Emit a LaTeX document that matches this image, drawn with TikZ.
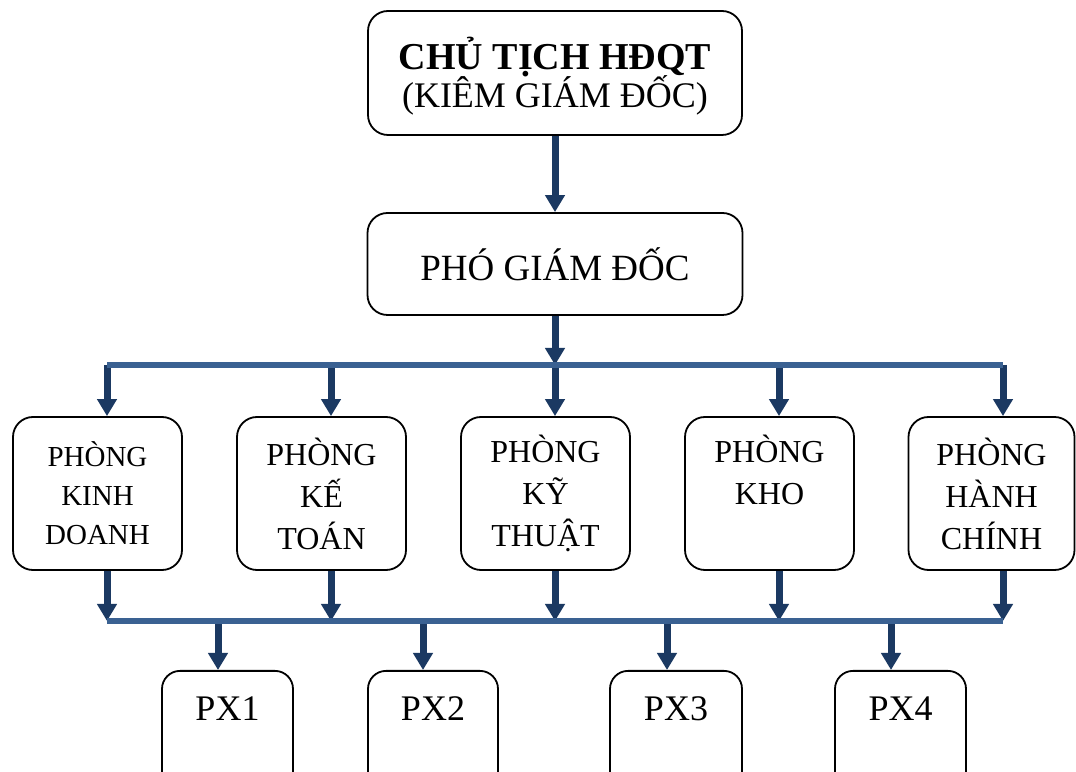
\documentclass[tikz,border=0pt]{standalone}
\usepackage{fontspec}
\setmainfont{Liberation Serif}
\usetikzlibrary{arrows.meta}
\definecolor{arrowblue}{RGB}{27,57,98}
\definecolor{busblue}{RGB}{58,97,146}
\tikzset{
  box/.style={draw=black, line width=1.8pt, rounded corners=20pt, fill=white,
    inner sep=0pt, align=center},
  unit/.style={box, minimum width=169pt, minimum height=153pt,
    font=\fontsize{32}{42}\selectfont},
  pxbox/.style={box, rounded corners=18pt, anchor=north, minimum width=131pt,
    inner sep=25pt, text height=25pt, text depth=55pt,
    font=\fontsize{36}{40}\selectfont},
  arr/.style={draw=arrowblue, line width=7pt,
    -{Triangle[width=19pt,length=17pt]}},
  bus/.style={draw=busblue, line width=6pt}
}
\begin{document}
\begin{tikzpicture}[x=1pt,y=1pt]
% keep every text line at its exact baseline distance
\lineskiplimit=-100pt\relax
\clip (0,0) rectangle (1076,771);
\fill[white] (0,0) rectangle (1076,771);

% management boxes
\node[box, minimum width=374pt, minimum height=124pt,
  font=\fontsize{36}{38}\selectfont] (ct) at (555,698)
  {{\fontsize{38}{38}\selectfont\bfseries\rule{0pt}{39pt}CHỦ TỊCH HĐQT}\\
   (KIÊM GIÁM ĐỐC)};
\node[box, minimum width=375pt, minimum height=102pt,
  font=\fontsize{37}{40}\selectfont] (pgd) at (555,507) {PHÓ GIÁM ĐỐC};

% departments
\node[unit, font=\fontsize{29}{39}\selectfont] (kd) at (97.5,277.5)
  {PHÒNG\\KINH\\DOANH};
\node[unit] (kt) at (321.5,277.5) {PHÒNG\\KẾ\\TOÁN};
\node[unit] (ky) at (545.5,277.5) {PHÒNG\\KỸ\\THUẬT};
\node[unit] (kh) at (769.5,277.5) {PHÒNG\\KHO\\\vphantom{THUẬT}};
\node[unit, minimum width=166pt] (hc) at (991.5,277.5) {PHÒNG\\HÀNH\\CHÍNH};

% workshops
\node[pxbox] (px1) at (227.5,101) {PX1};
\node[pxbox, minimum width=130pt] (px2) at (433,101) {PX2};
\node[pxbox, minimum width=132pt] (px3) at (676,101) {PX3};
\node[pxbox] (px4) at (900.5,101) {PX4};

% bus junctions
\coordinate (u0) at (555,406);
\coordinate (u1) at (107,406);
\coordinate (u2) at (331,406);
\coordinate (u3) at (555,406);
\coordinate (u4) at (779,406);
\coordinate (u5) at (1003,406);
\coordinate (l1) at (107,150);
\coordinate (l2) at (331,150);
\coordinate (l3) at (555,150);
\coordinate (l4) at (779,150);
\coordinate (l5) at (1003,150);
\coordinate (p1) at (218,150);
\coordinate (p2) at (423,150);
\coordinate (p3) at (667,150);
\coordinate (p4) at (891,150);

% arrows
\draw[arr] (ct.south) -- (pgd.north);
\draw[arr] (pgd.south) -- (u0);
\draw[arr] (u1) -- (u1 |- kd.north);
\draw[arr] (u2) -- (u2 |- kt.north);
\draw[arr] (u3) -- (u3 |- ky.north);
\draw[arr] (u4) -- (u4 |- kh.north);
\draw[arr] (u5) -- (u5 |- hc.north);
\draw[arr] (l1 |- kd.south) -- (l1);
\draw[arr] (l2 |- kt.south) -- (l2);
\draw[arr] (l3 |- ky.south) -- (l3);
\draw[arr] (l4 |- kh.south) -- (l4);
\draw[arr] (l5 |- hc.south) -- (l5);
\draw[arr] (p1) -- (p1 |- px1.north);
\draw[arr] (p2) -- (p2 |- px2.north);
\draw[arr] (p3) -- (p3 |- px3.north);
\draw[arr] (p4) -- (p4 |- px4.north);

% buses
\draw[bus] (u1) -- (u5);
\draw[bus] (l1) -- (l5);
\end{tikzpicture}
\end{document}
